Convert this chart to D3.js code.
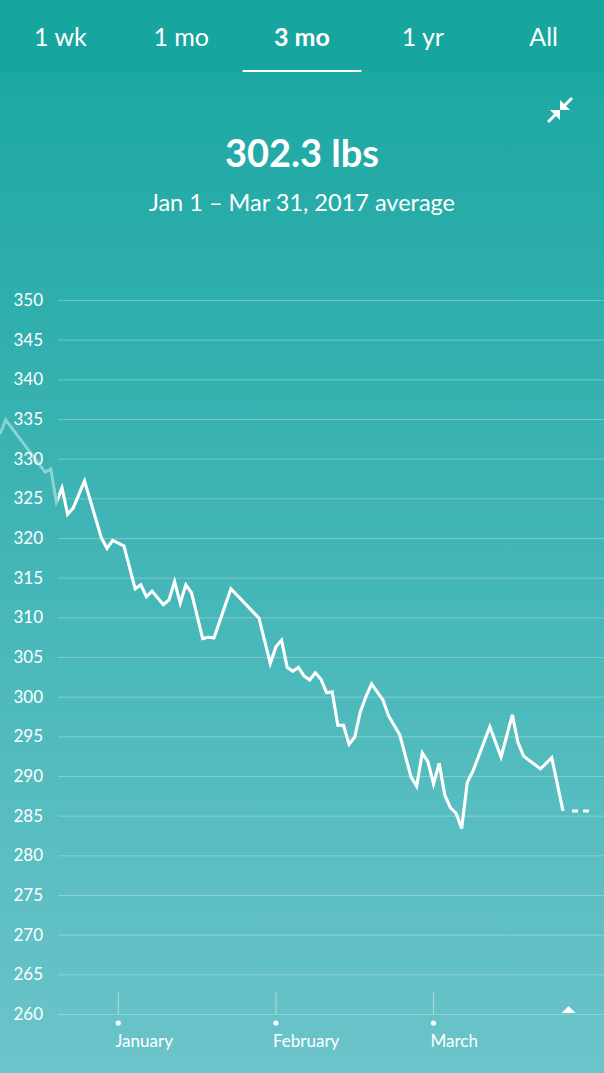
<!DOCTYPE html>
<html><head><meta charset="utf-8">
<script src="https://cdn.jsdelivr.net/npm/d3@7/dist/d3.min.js"></script>
<style>
html,body{margin:0;padding:0;background:#1ea9a5;}
svg{display:block;font-family:Lato,"Open Sans",sans-serif;}
</style></head>
<body>
<svg id="c" width="604" height="1073"></svg>
<script>
// ---- data ----
const tabs = ["1 wk", "1 mo", "3 mo", "1 yr", "All"];
const activeTab = "3 mo";
const headline = "302.3 lbs";
const subtitle = "Jan 1 \u2013 Mar 31, 2017 average";
// day index relative to Jan 1, 2017 (negative = December 2016)
const days = [-11,-10,-3,-2,-1,0,1,2,4,7,8,9,11,13,14,15,16,18,19,20,21,22,23,25,26,27,30,35,37,38,39,40,41,42,43,44,45,46,47,48,49,50,51,52,53,54,55,57,58,60,62,63,64,65,66,67,68,69,70,71,72,73,76,78,80,81,82,85,87,89];
const weights = [333.1,334.9,328.3,328.7,324.5,326.3,323.0,323.8,327.2,320.0,318.7,319.7,319.0,313.6,314.1,312.6,313.3,311.6,312.2,314.5,311.8,314.1,313.1,307.3,307.5,307.4,313.6,309.9,304.2,306.3,307.1,303.7,303.2,303.7,302.6,302.1,303.0,302.2,300.5,300.6,296.4,296.4,294.0,294.9,298.1,300.0,301.6,299.6,297.6,295.2,289.9,288.7,292.9,291.8,289.0,291.6,287.6,286.0,285.3,283.4,289.2,290.6,296.2,292.4,297.7,294.2,292.5,290.9,292.3,285.6];
const projectionDays = [89, 93.6];
const projectionValue = 285.6;
const todayDay = 90;
const monthTickDays = [10, 38, 66];
const monthLabels = ["January", "February", "March"];
const yTickValues = [260,265,270,275,280,285,290,295,300,305,310,315,320,325,330,335,340,345,350];

// ---- drawing ----
const W = 604, H = 1073;
const svg = d3.select("#c");
const defs = svg.append("defs");
const grad = defs.append("linearGradient").attr("id","bg").attr("x1",0).attr("y1",0).attr("x2",0).attr("y2",1);
grad.append("stop").attr("offset","0%").attr("stop-color","#1da8a4");
grad.append("stop").attr("offset","100%").attr("stop-color","#6bc4ca");
svg.append("rect").attr("x",0).attr("y",72).attr("width",W).attr("height",H-72).attr("fill","url(#bg)");
svg.append("rect").attr("x",0).attr("y",0).attr("width",W).attr("height",72).attr("fill","#17a5a0");

// tabs
const tabX = d3.scaleBand().domain(tabs).range([0, W]);
svg.append("g").selectAll("text").data(tabs).join("text")
  .attr("x", d => tabX(d) + tabX.bandwidth()/2)
  .attr("y", 46)
  .attr("text-anchor","middle")
  .attr("fill","#fff")
  .attr("font-size", 25)
  .attr("font-weight", d => d === activeTab ? 700 : 400)
  .text(d => d);
svg.append("rect")
  .attr("x", tabX(activeTab)+1).attr("y", 70)
  .attr("width", tabX.bandwidth()-2).attr("height", 2)
  .attr("fill","#fff");

// compress icon
const ic = svg.append("g").attr("fill","#fff").attr("stroke","#fff");
ic.append("line").attr("x1",572).attr("y1",98).attr("x2",564).attr("y2",106).attr("stroke-width",3);
ic.append("path").attr("d","M560,110 L560,100 L570,110 Z").attr("stroke","none");
ic.append("line").attr("x1",548).attr("y1",122).attr("x2",556).attr("y2",114).attr("stroke-width",3);
ic.append("path").attr("d","M560,110 L560,120 L550,110 Z").attr("stroke","none");

// headline
svg.append("text").attr("x",W/2).attr("y",167).attr("text-anchor","middle")
  .attr("fill","#fff").attr("font-size",38).attr("font-weight",700).text(headline);
svg.append("text").attr("x",W/2).attr("y",211).attr("text-anchor","middle")
  .attr("fill","#fff").attr("font-size",23.5).text(subtitle);

// scales
const plotLeft = 58;
const x = d3.scaleLinear().domain([0, 89]).range([62, 563]);
const y = d3.scaleLinear().domain([260, 350]).range([1014, 300]);

// grid + y labels
const yAxis = d3.axisLeft(y).tickValues(yTickValues).tickSize(-(W - plotLeft)).tickPadding(15).tickFormat(d3.format("d"));
const ga = svg.append("g").attr("transform",`translate(${plotLeft},0)`).call(yAxis);
ga.select(".domain").remove();
ga.selectAll(".tick line").attr("stroke","#fff").attr("stroke-opacity",0.28).attr("stroke-width",1);
ga.selectAll(".tick text").attr("fill","#fff").attr("font-size",17).attr("font-family","Lato, sans-serif");

// month ticks
const mg = svg.append("g");
mg.selectAll("line").data(monthTickDays).join("line")
  .attr("x1", d => x(d)).attr("x2", d => x(d))
  .attr("y1", 992).attr("y2", y(260))
  .attr("stroke","#fff").attr("stroke-opacity",0.45).attr("stroke-width",1);
mg.selectAll("circle").data(monthTickDays).join("circle")
  .attr("cx", d => x(d)).attr("cy", 1023).attr("r", 2.6).attr("fill","#fff");
mg.selectAll("text").data(monthTickDays).join("text")
  .attr("x", d => x(d) - 3).attr("y", 1047)
  .attr("fill","#fff").attr("font-size",17)
  .text((d,i) => monthLabels[i]);

// today marker
svg.append("path")
  .attr("d", `M${x(todayDay)-7},${y(260)-1} L${x(todayDay)},${y(260)-8} L${x(todayDay)+7},${y(260)-1} Z`)
  .attr("fill","#fff");

// line
const pts = days.map((d,i) => ({d, v: weights[i]}));
const line = d3.line().x(p => x(p.d)).y(p => y(p.v));
defs.append("clipPath").attr("id","plotclip").append("rect")
  .attr("x", plotLeft).attr("y", 0).attr("width", W - plotLeft).attr("height", H);
svg.append("path").datum(pts).attr("d", line)
  .attr("fill","none").attr("stroke","#fff").attr("stroke-opacity",0.42)
  .attr("stroke-width",3).attr("stroke-linejoin","miter");
svg.append("path").datum(pts).attr("d", line).attr("clip-path","url(#plotclip)")
  .attr("fill","none").attr("stroke","#fff").attr("stroke-width",3).attr("stroke-linejoin","miter");

// projection dashes
svg.append("path").datum(projectionDays.map(d => ({d, v: projectionValue}))).attr("d", line)
  .attr("fill","none").attr("stroke","#fff").attr("stroke-width",3)
  .attr("stroke-dasharray","0 9 6 5 6 100");
</script>
</body></html>
